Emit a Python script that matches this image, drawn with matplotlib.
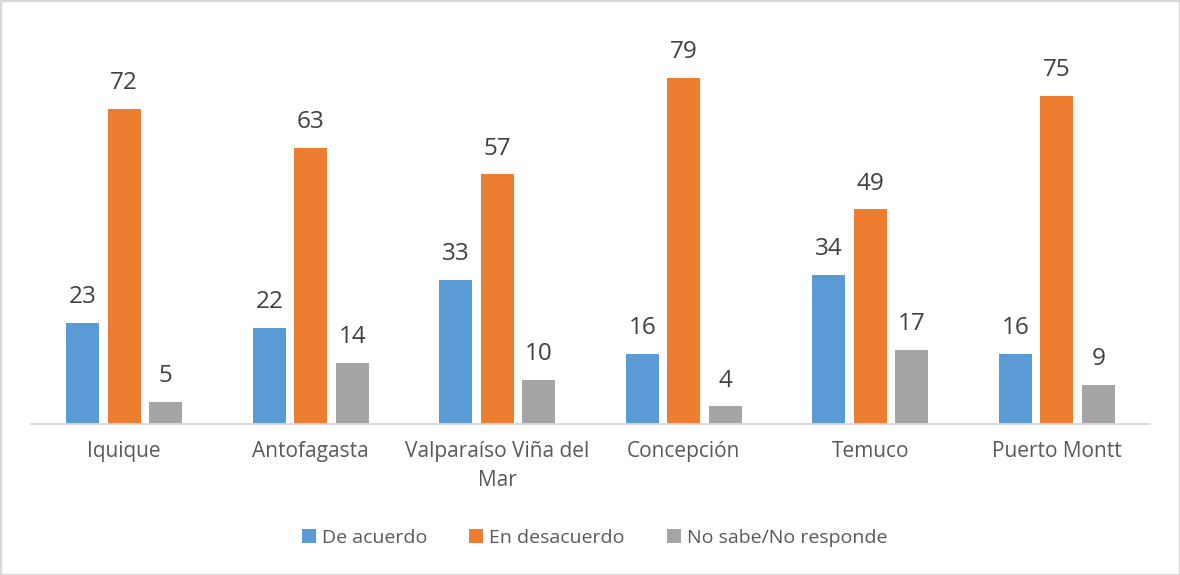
import matplotlib
matplotlib.use("Agg")
import matplotlib.pyplot as plt
import numpy as np

# ── 数据 ──
ciudades = ["Iquique", "Antofagasta", "Valparaíso Viña del\nMar", "Concepción", "Temuco", "Puerto Montt"]
de_acuerdo = [23, 22, 33, 16, 34, 16]
en_desacuerdo = [72, 63, 57, 79, 49, 75]
no_sabe = [5, 14, 10, 4, 17, 9]
series_names = ["De acuerdo", "En desacuerdo", "No sabe/No responde"]

# ── 配色 ──
C_BLUE = "#5B9BD5"
C_ORANGE = "#ED7D31"
C_GRAY = "#A5A5A5"
C_VAL = "#404040"
C_TXT = "#595959"
C_LINE = "#D9D9D9"

plt.rcParams["font.family"] = ["Open Sans", "DejaVu Sans"]

fig = plt.figure(figsize=(11.8, 5.75), dpi=100, facecolor="white")
fig.patches.append(plt.Rectangle((0, 0), 1, 1, transform=fig.transFigure,
                                 fill=False, edgecolor=C_LINE, linewidth=2.5))

W, H = 1180, 575
ax = fig.add_axes([31 / W, (H - 424) / H, 1119 / W, 394 / H])

x = np.arange(len(ciudades))
bw = 0.177
off = 0.2225
for vals, dx, color, name in [(de_acuerdo, -off, C_BLUE, series_names[0]),
                              (en_desacuerdo, 0, C_ORANGE, series_names[1]),
                              (no_sabe, off, C_GRAY, series_names[2])]:
    bars = ax.bar(x + dx, vals, width=bw, color=color, label=name, zorder=2)
    ax.bar_label(bars, padding=10, fontsize=17.5, color=C_VAL)

ax.set_xlim(-0.5, len(ciudades) - 0.5)
ax.set_ylim(0, 90)
ax.set_yticks([])
for s in ["top", "right", "left"]:
    ax.spines[s].set_visible(False)
ax.spines["bottom"].set_color(C_LINE)
ax.spines["bottom"].set_linewidth(1.3)
ax.set_xticks(x)
ax.set_xticklabels(ciudades, fontsize=15, color=C_TXT, linespacing=1.52)
ax.tick_params(axis="x", length=0, pad=12)

fig.legend(loc="center", bbox_to_anchor=(594.5 / W, 1 - 538 / H), ncol=3, frameon=False,
           fontsize=14, labelcolor=C_TXT, handlelength=0.72, handleheight=0.72,
           handletextpad=0.31, columnspacing=2.15)

fig.savefig("out.png", dpi=100, facecolor="white")
